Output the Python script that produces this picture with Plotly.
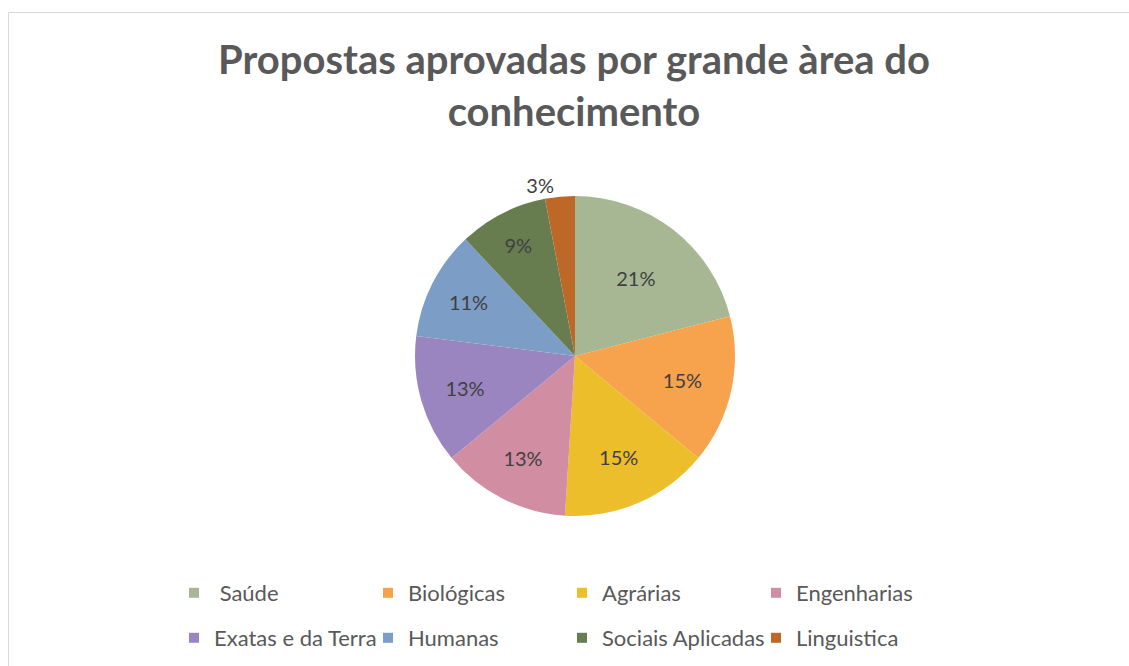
import plotly.graph_objects as go

title_text = "Propostas aprovadas por grande àrea do<br>conhecimento"
categories = [" Saúde", "Biológicas", "Agrárias", "Engenharias",
              "Exatas e da Terra", "Humanas", "Sociais Aplicadas", "Linguistica"]
values = [21, 15, 15, 13, 13, 11, 9, 3]
colors = ["#a7b793", "#f7a24c", "#edbe2c", "#d18ea2",
          "#9a85c1", "#7c9dc6", "#677c4f", "#bd6826"]

W, H = 1129, 666
FONT = "Lato"

fig = go.Figure()
fig.add_trace(go.Pie(
    labels=categories, values=values, sort=False, direction="clockwise", rotation=0,
    marker=dict(colors=colors, line=dict(width=0)),
    texttemplate="%{percent:.0%}", textposition="auto",
    insidetextorientation="horizontal",
    textfont=dict(family=FONT, size=20, color="#404040"),
    domain=dict(x=[(575 - 160) / W, (575 + 160) / W], y=[1 - (356 + 160) / H, 1 - (356 - 160) / H]),
    showlegend=False, hoverinfo="label+percent",
))

# legend entries in two rows
for i, (c, col) in enumerate(zip(categories, colors)):
    fig.add_trace(go.Scatter(
        x=[None], y=[None], mode="markers",
        name=("\u00a0" + c.strip()) if c.startswith(" ") else c,
        marker=dict(symbol="square", size=10, color=col),
        legend="legend" if i < 4 else "legend2", showlegend=True,
    ))

leg_common = dict(orientation="h", xanchor="left", yanchor="middle",
                  font=dict(family=FONT, size=22, color="#595959"),
                  entrywidth=149, entrywidthmode="pixels", itemwidth=30,
                  bgcolor="rgba(0,0,0,0)")

fig.update_layout(
    width=W, height=H,
    margin=dict(l=0, r=0, t=0, b=0),
    paper_bgcolor="white", plot_bgcolor="white",
    title=dict(text=title_text, x=574 / W, xanchor="center", y=1 - 74 / H, yanchor="top",
               font=dict(family=FONT, size=40, color="#595959", weight="bold")),
    xaxis=dict(visible=False), yaxis=dict(visible=False),
    legend=dict(x=174 / W, y=1 - 593 / H, **leg_common),
    legend2=dict(x=174 / W, y=1 - 638 / H, **leg_common),
    shapes=[dict(type="rect", xref="paper", yref="paper",
                 x0=8.5 / W, x1=1.05, y0=-0.05, y1=1 - 12.5 / H,
                 line=dict(color="#d9d9d9", width=1), fillcolor="rgba(0,0,0,0)", layer="below")],
)

fig.write_html("out.html", config={"displayModeBar": False},
               post_script="document.body.style.margin='0px';")
